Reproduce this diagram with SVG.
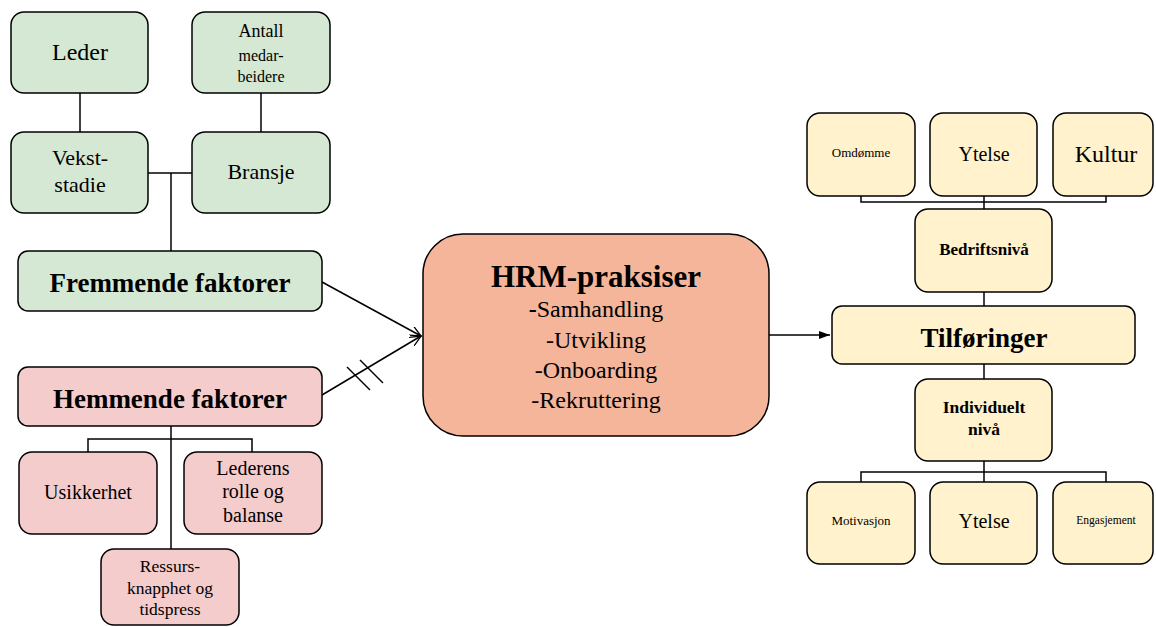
<svg xmlns="http://www.w3.org/2000/svg" width="1156" height="627" viewBox="0 0 1156 627">
  <defs>
    <marker id="arrow" markerWidth="12" markerHeight="10" refX="11" refY="5" orient="auto" markerUnits="userSpaceOnUse">
      <path d="M0,0 L11,5 L0,10" fill="none" stroke="#000" stroke-width="1.3"/>
    </marker>
    <marker id="arrowFill" markerWidth="12" markerHeight="10" refX="11" refY="5" orient="auto" markerUnits="userSpaceOnUse">
      <path d="M0,1 L11,5 L0,9 Z" fill="#000" stroke="none"/>
    </marker>
    <style>
      .box { stroke: #000; stroke-width: 1.5; }
      .green { fill: #d5e8d4; }
      .pink { fill: #f4cccc; }
      .orange { fill: #f4b59a; }
      .yellow { fill: #fff2cc; }
      .t { font-family: "Liberation Serif", "Times New Roman", serif; fill: #000; text-anchor: middle; }
      .b { font-weight: bold; }
      .line { stroke: #000; stroke-width: 1.5; fill: none; }
    </style>
  </defs>
  <rect width="1156" height="627" fill="#fff"/>

  <!-- connectors -->
  <g id="connectors">
    <line class="line" x1="80" y1="93" x2="80" y2="132"/>
    <line class="line" x1="261" y1="93" x2="261" y2="132"/>
    <polyline class="line" points="148,173 192,173"/>
    <line class="line" x1="171" y1="173" x2="171" y2="251"/>
    <line class="line" x1="322" y1="282" x2="421" y2="336" marker-end="url(#arrow)"/>
    <line class="line" x1="322" y1="395" x2="421" y2="336" marker-end="url(#arrow)"/>
    <line class="line" x1="347" y1="367" x2="370" y2="390"/>
    <line class="line" x1="360" y1="360" x2="383" y2="383"/>
    <line class="line" x1="171" y1="426" x2="171" y2="549"/>
    <polyline class="line" points="88,452 88,439 252,439 252,452"/>
    <line class="line" x1="769" y1="335" x2="830" y2="335" marker-end="url(#arrowFill)"/>
    <polyline class="line" points="861,196 861,202 1106,202 1106,196"/>
    <line class="line" x1="984" y1="196" x2="984" y2="209"/>
    <line class="line" x1="984" y1="292" x2="984" y2="306"/>
    <line class="line" x1="984" y1="364" x2="984" y2="379"/>
    <line class="line" x1="984" y1="461" x2="984" y2="482"/>
    <polyline class="line" points="861,482 861,472 1106,472 1106,482"/>
  </g>

  <!-- promoting factors -->
  <g id="leder">
    <rect class="box green" x="11" y="12" width="137" height="81" rx="13"/>
    <text class="t" x="80" y="60" font-size="24">Leder</text>
  </g>
  <g id="antall">
    <rect class="box green" x="192" y="12" width="138" height="81" rx="13"/>
    <text class="t" x="261" y="37" font-size="18">Antall</text>
    <text class="t" x="261" y="61" font-size="16">medar-</text>
    <text class="t" x="261" y="82" font-size="16">beidere</text>
  </g>
  <g id="vekst">
    <rect class="box green" x="11" y="132" width="137" height="81" rx="13"/>
    <text class="t" x="80" y="165" font-size="22">Vekst-</text>
    <text class="t" x="80" y="192" font-size="22">stadie</text>
  </g>
  <g id="bransje">
    <rect class="box green" x="192" y="132" width="138" height="81" rx="13"/>
    <text class="t" x="261" y="179" font-size="22">Bransje</text>
  </g>
  <g id="fremmende">
    <rect class="box green" x="18" y="251" width="304" height="60" rx="10"/>
    <text class="t b" x="170" y="292" font-size="27">Fremmende faktorer</text>
  </g>

  <!-- inhibiting factors -->
  <g id="hemmende">
    <rect class="box pink" x="18" y="367" width="304" height="59" rx="10"/>
    <text class="t b" x="170" y="408" font-size="27">Hemmende faktorer</text>
  </g>
  <g id="usikkerhet">
    <rect class="box pink" x="19" y="452" width="138" height="82" rx="13"/>
    <text class="t" x="88" y="499" font-size="20">Usikkerhet</text>
  </g>
  <g id="lederens">
    <rect class="box pink" x="184" y="452" width="138" height="82" rx="13"/>
    <text class="t" x="253" y="475" font-size="20">Lederens</text>
    <text class="t" x="253" y="498" font-size="20">rolle og</text>
    <text class="t" x="253" y="522" font-size="20">balanse</text>
  </g>
  <g id="ressurs">
    <rect class="box pink" x="101" y="549" width="138" height="76" rx="13"/>
    <text class="t" x="170" y="572" font-size="17.5">Ressurs-</text>
    <text class="t" x="170" y="594" font-size="17.5">knapphet og</text>
    <text class="t" x="170" y="615" font-size="17.5">tidspress</text>
  </g>

  <!-- HRM practices -->
  <g id="hrm">
    <rect class="box orange" x="423" y="234" width="346" height="202" rx="40"/>
    <text class="t b" x="596" y="287" font-size="31">HRM-praksiser</text>
    <text class="t" x="596" y="317" font-size="24"><tspan class="b">-</tspan>Samhandling</text>
    <text class="t" x="596" y="348" font-size="24">-Utvikling</text>
    <text class="t" x="596" y="378" font-size="24">-Onboarding</text>
    <text class="t" x="596" y="408" font-size="24">-Rekruttering</text>
  </g>

  <!-- outcomes -->
  <g id="omdomme">
    <rect class="box yellow" x="807" y="113" width="108" height="83" rx="13"/>
    <text class="t" x="861" y="157" font-size="13">Omdømme</text>
  </g>
  <g id="ytelse-bedrift">
    <rect class="box yellow" x="930" y="113" width="107" height="83" rx="13"/>
    <text class="t" x="984" y="161" font-size="20">Ytelse</text>
  </g>
  <g id="kultur">
    <rect class="box yellow" x="1053" y="113" width="100" height="83" rx="13"/>
    <text class="t" x="1106" y="162" font-size="24">Kultur</text>
  </g>
  <g id="bedriftsniva">
    <rect class="box yellow" x="915" y="209" width="137" height="83" rx="13"/>
    <text class="t b" x="984" y="255" font-size="17">Bedriftsnivå</text>
  </g>
  <g id="tilforinger">
    <rect class="box yellow" x="832" y="306" width="303" height="58" rx="10"/>
    <text class="t b" x="984" y="347" font-size="27">Tilføringer</text>
  </g>
  <g id="individuelt">
    <rect class="box yellow" x="915" y="379" width="137" height="82" rx="13"/>
    <text class="t b" x="984" y="413" font-size="17.5">Individuelt</text>
    <text class="t b" x="984" y="435" font-size="17.5">nivå</text>
  </g>
  <g id="motivasjon">
    <rect class="box yellow" x="807" y="482" width="108" height="82" rx="13"/>
    <text class="t" x="861" y="525" font-size="13">Motivasjon</text>
  </g>
  <g id="ytelse-individ">
    <rect class="box yellow" x="930" y="482" width="107" height="82" rx="13"/>
    <text class="t" x="984" y="528" font-size="20">Ytelse</text>
  </g>
  <g id="engasjement">
    <rect class="box yellow" x="1053" y="482" width="100" height="82" rx="13"/>
    <text class="t" x="1106" y="524" font-size="11.5">Engasjement</text>
  </g>
</svg>
